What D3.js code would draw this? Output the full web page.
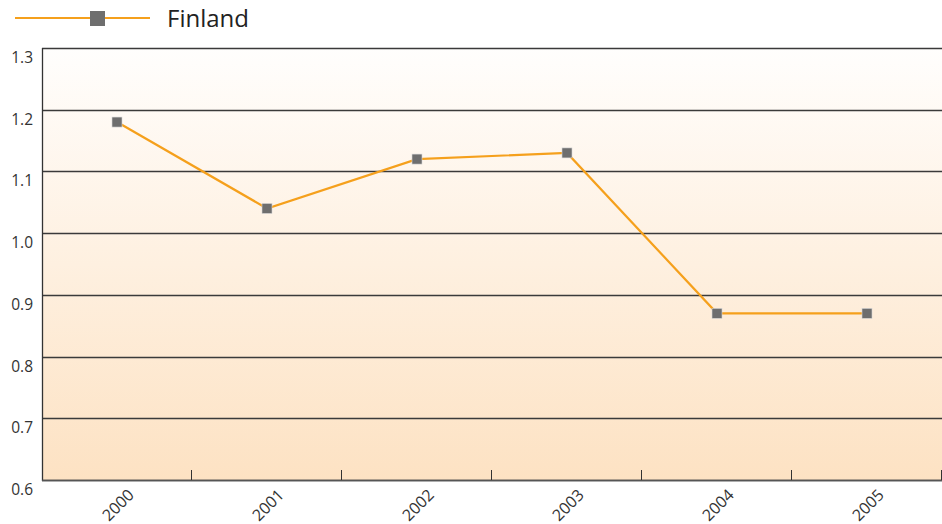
<!DOCTYPE html>
<html><head><meta charset="utf-8">
<script src="https://cdn.jsdelivr.net/npm/d3@7"></script>
<style>body{margin:0;background:#fff;}svg{display:block;font-family:"Open Sans","Noto Sans",sans-serif;}</style>
</head><body><svg id="c" width="942" height="524"></svg>
<script>
const years = ["2000","2001","2002","2003","2004","2005"];
const finland = [1.18, 1.04, 1.12, 1.13, 0.87, 0.87];
const yTicks = [0.6,0.7,0.8,0.9,1.0,1.1,1.2,1.3];
const seriesName = "Finland";

const svg = d3.select("#c");
const m = {l:42, r:942, t:48, b:480};
const x = d3.scaleBand().domain(years).range([m.l, m.r]);
const y = d3.scaleLinear().domain([0.6,1.3]).range([m.b, m.t]);

const defs = svg.append("defs");
const g = defs.append("linearGradient").attr("id","bg").attr("x1",0).attr("y1",0).attr("x2",0).attr("y2",1);
g.append("stop").attr("offset","0%").attr("stop-color","#fffefd");
g.append("stop").attr("offset","100%").attr("stop-color","#fde2c3");
svg.append("rect").attr("x",m.l).attr("y",m.t).attr("width",m.r-m.l).attr("height",m.b-m.t).attr("fill","url(#bg)");

// gridlines
svg.append("g").selectAll("line").data(yTicks).join("line")
  .attr("x1",m.l).attr("x2",m.r).attr("y1",d=>Math.round(y(d))+0.5).attr("y2",d=>Math.round(y(d))+0.5)
  .attr("stroke","#3a3a3a").attr("stroke-width",1.3);

// y labels
svg.append("g").selectAll("text").data(yTicks).join("text")
  .attr("x",33).attr("y",d=>y(d)+15).attr("text-anchor","end")
  .attr("font-size",15.5).attr("fill","#333").text(d=>d.toFixed(1));

// left axis line
svg.append("line").attr("x1",m.l+0.5).attr("x2",m.l+0.5).attr("y1",m.t).attr("y2",m.b+1).attr("stroke","#333").attr("stroke-width",1.3);
// bottom axis
svg.append("line").attr("x1",m.l).attr("x2",m.r).attr("y1",m.b+0.5).attr("y2",m.b+0.5).attr("stroke","#555").attr("stroke-width",1.5);
// ticks between categories
const tickPos = years.map(d=>x(d)+x.bandwidth());
svg.append("g").selectAll("line").data(tickPos).join("line")
  .attr("x1",d=>Math.round(d)-0.5).attr("x2",d=>Math.round(d)-0.5).attr("y1",m.b-10).attr("y2",m.b)
  .attr("stroke","#333");

// x labels
svg.append("g").selectAll("text").data(years).join("text")
  .attr("transform",d=>`translate(${x(d)+x.bandwidth()/2+18},${m.b+16}) rotate(-45)`)
  .attr("text-anchor","end").attr("font-size",16).attr("fill","#333").text(d=>d);

// line
const cx = d=>x(d)+x.bandwidth()/2;
svg.append("path").datum(years.map((d,i)=>[cx(d),y(finland[i])]))
  .attr("d",d3.line()).attr("fill","none").attr("stroke","#f5a01c").attr("stroke-width",2.2);
svg.append("g").selectAll("rect").data(years).join("rect")
  .attr("x",(d)=>cx(d)-5).attr("y",(d,i)=>y(finland[i])-5).attr("width",10).attr("height",10)
  .attr("fill","#6e6e6e").attr("stroke","#d8d8d8").attr("stroke-width",0.6);

// legend
svg.append("line").attr("x1",15).attr("x2",150).attr("y1",18).attr("y2",18).attr("stroke","#f5a01c").attr("stroke-width",2.2);
svg.append("rect").attr("x",90).attr("y",11).attr("width",15).attr("height",15).attr("fill","#6e6e6e");
svg.append("text").attr("x",167).attr("y",27).attr("font-size",24).attr("fill","#222").text(seriesName);
</script></body></html>
